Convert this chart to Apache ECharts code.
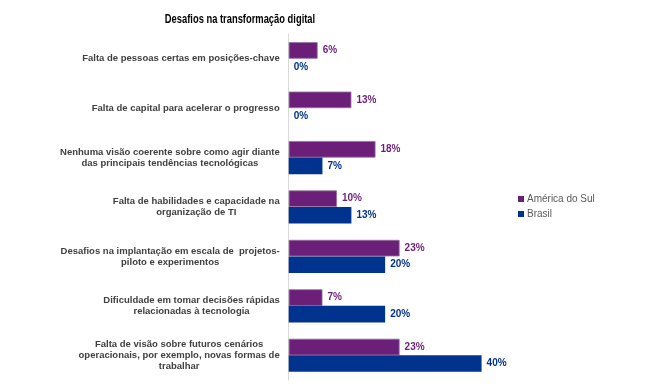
<!DOCTYPE html>
<html><head><meta charset="utf-8">
<script src="https://cdn.jsdelivr.net/npm/echarts@6/dist/echarts.min.js"></script>
<style>html,body{margin:0;padding:0;background:#fff}#c{width:666px;height:387px}</style>
</head><body><div id="c"></div>
<script>
const title = "Desafios na transformação digital";
const categories = [
  "Falta de pessoas certas em posições-chave",
  "Falta de capital para acelerar o progresso",
  "Nenhuma visão coerente sobre como agir diante\ndas principais tendências tecnológicas",
  "Falta de habilidades e capacidade na\norganização de TI",
  "Desafios na implantação em escala de  projetos-\npiloto e experimentos",
  "Dificuldade em tomar decisões rápidas\nrelacionadas à tecnologia",
  "Falta de visão sobre futuros cenários\noperacionais, por exemplo, novas formas de\ntrabalhar"
];
const seriesNames = ["América do Sul", "Brasil"];
const americaDoSul = [6, 13, 18, 10, 23, 7, 23];
const brasil = [0, 0, 7, 13, 20, 20, 40];

const PURPLE = '#6b1f78', BLUE = '#00338d';
const FONT = "'Liberation Sans', Arial, sans-serif";
const chart = echarts.init(document.getElementById('c'));
chart.setOption({
  animation: false,
  graphic: [{
    type: 'text', x: 240, y: 19, scaleX: 0.72,
    style: { text: title, textAlign: 'center', textVerticalAlign: 'middle',
      fontFamily: FONT, fontWeight: 'bold', fontSize: 13, fill: '#000' }
  }],
  legend: {
    orient: 'vertical', left: 518, top: 194, padding: 0,
    itemWidth: 6, itemHeight: 6, itemGap: 5,
    icon: 'rect',
    itemStyle: { borderWidth: 0 },
    textStyle: { fontFamily: FONT, fontSize: 10, color: '#595959', padding: [0,0,0,-2] },
    data: seriesNames
  },
  grid: { left: 288.7, top: 34, width: 217, height: 346 },
  xAxis: { type: 'value', min: 0, max: 45, show: false },
  yAxis: {
    type: 'category', inverse: true, data: categories,
    axisLine: { lineStyle: { color: '#d9d9d9', width: 1 } },
    axisTick: { length: 3, lineStyle: { color: '#d9d9d9' } },
    axisLabel: {
      margin: 9, align: 'right',
      formatter: v => v.split('\n').map(l => '{c|' + l + '}').join('\n'),
      rich: { c: { align: 'center', fontFamily: FONT, fontWeight: 'bold', fontSize: 9.5, lineHeight: 11, color: '#404040' } }
    }
  },
  series: [
    { name: seriesNames[0], type: 'bar', data: americaDoSul, barGap: '0%', barCategoryGap: '33%',
      itemStyle: { color: PURPLE, borderColor: '#94709e', borderWidth: 0.8 },
      label: { show: true, position: 'right', distance: 5, formatter: '{c}%', fontFamily: FONT, fontWeight: 'bold', fontSize: 10, color: PURPLE } },
    { name: seriesNames[1], type: 'bar', data: brasil, barGap: '0%', barCategoryGap: '33%',
      itemStyle: { color: BLUE },
      label: { show: true, position: 'right', distance: 5, formatter: '{c}%', fontFamily: FONT, fontWeight: 'bold', fontSize: 10, color: BLUE } }
  ]
});
</script></body></html>
